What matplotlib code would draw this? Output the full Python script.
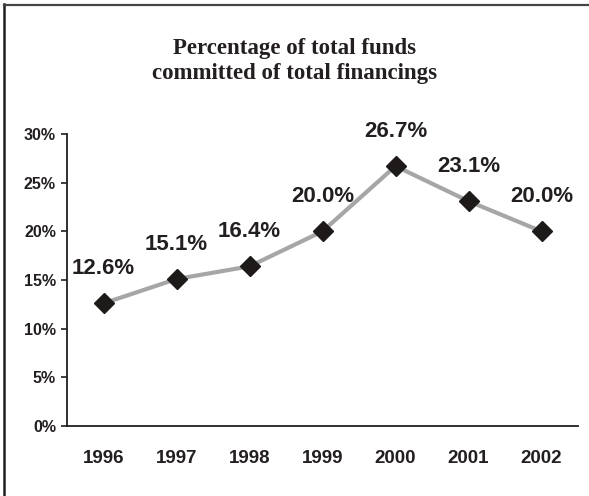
import matplotlib
matplotlib.use("Agg")
import matplotlib.pyplot as plt
from matplotlib.lines import Line2D

years = ["1996", "1997", "1998", "1999", "2000", "2001", "2002"]
values = [12.6, 15.1, 16.4, 20.0, 26.7, 23.1, 20.0]
yticks = [0, 5, 10, 15, 20, 25, 30]
title = "Percentage of total funds\ncommitted of total financings"

fig = plt.figure(figsize=(5.89, 4.96), dpi=100)
ax = fig.add_axes([67/589, 1-426/496, 511/589, 292/496])

x = list(range(len(years)))
ax.plot(x, values, color="#a6a6a6", lw=3, zorder=2)
ax.plot(x, values, ls="none", marker="D", ms=10, color="#1e1a1a", zorder=3)

for xi, v in zip(x, values):
    ax.annotate(f"{v:.1f}%", (xi, v), xytext=(0, 25), textcoords="offset points",
                ha="center", va="center", fontsize=16, fontweight="bold",
                family="Liberation Sans", color="#231f20")

ax.set_xlim(-0.5, len(years) - 0.5)
ax.set_ylim(0, 30)
ax.set_xticks(x)
ax.set_xticklabels(years, fontsize=13.5, fontweight="bold", family="Liberation Sans", color="#231f20")
ax.set_yticks(yticks)
ax.set_yticklabels([f"{t}%" for t in yticks], fontsize=11.5, fontweight="bold",
                   family="Liberation Sans", color="#231f20")
ax.tick_params(axis="x", length=0, pad=17)
ax.tick_params(axis="y", length=4, width=1.2, color="#231f20", pad=4, direction="out")
for s in ["top", "right"]:
    ax.spines[s].set_visible(False)
for s in ["left", "bottom"]:
    ax.spines[s].set_color("#231f20")
    ax.spines[s].set_linewidth(1.3)

fig.text(0.5, 1-61/496, title, ha="center", va="center", fontsize=16.5,
         fontweight="bold", family="Liberation Serif", color="#231f20", linespacing=1.3)

# frame (left and top edges)
fig.add_artist(Line2D([4/589, 4/589], [0, 1-4/496], transform=fig.transFigure, color="#231f20", lw=1.8))
fig.add_artist(Line2D([4/589, 1], [1-4.5/496, 1-4.5/496], transform=fig.transFigure, color="#444444", lw=1.6))

fig.savefig("out.png", dpi=100)
